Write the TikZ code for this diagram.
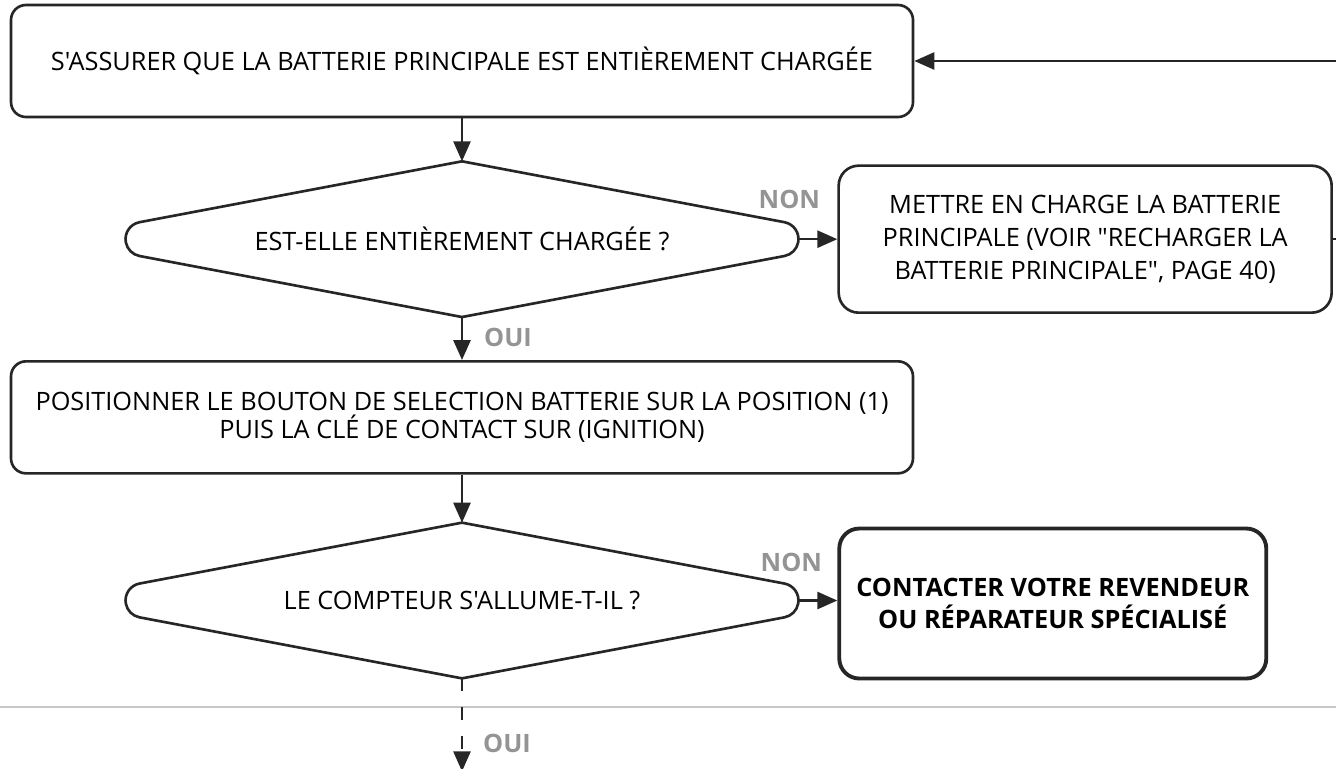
\documentclass[tikz,border=0pt]{standalone}
\usepackage{fontspec}
\setmainfont{Open Sans}[Ligatures=TeXOff]
\usetikzlibrary{positioning,arrows.meta,calc,shapes.geometric}

\begin{document}
\begin{tikzpicture}[
    font=\fontsize{14.4}{16.3}\selectfont,
    >={Triangle[length=4mm,width=3.4mm]},
    node distance=8.6mm and 7.8mm,
    blk/.style    ={draw=black!85, rounded corners=3mm, align=center,
                    inner sep=0pt, line width=1.5pt},
    act/.style    ={blk, minimum width=180.4mm, minimum height=22.4mm},
    note/.style   ={blk, rounded corners=4mm, minimum width=98.6mm,
                    minimum height=29.4mm, font=\fontsize{14.4}{18.8}\selectfont},
    stopbox/.style={blk, rounded corners=4mm, line width=2.2pt, minimum width=85.4mm,
                    minimum height=30mm, font=\fontsize{14.4}{18.4}\selectfont\bfseries},
    ask/.style    ={diamond, aspect=5.3, inner sep=0pt,
                    minimum width=164.8mm, minimum height=31mm},
    rim/.style    ={line width=1.5pt, draw=black!85, line cap=round, line join=round},
    flow/.style   ={->, line width=1.5pt, draw=black!85},
    lbl/.style    ={text=black!42, font=\fontsize{14.4}{16.3}\selectfont\bfseries},
    sep/.style    ={line width=0.4mm, draw=black!22},
]
\useasboundingbox (0,0) rectangle (267.2mm,-153.8mm);

% ------------------------------------------------------------
% main column
% ------------------------------------------------------------
\node[act] (chk) at (92.4mm,-12.2mm)
    {S'ASSURER QUE LA BATTERIE PRINCIPALE EST ENTIÈREMENT CHARGÉE};
\node[ask, below=of chk] (dec1) {EST-ELLE ENTIÈREMENT CHARGÉE ?};
\node[act, below=of dec1] (sel)
    {POSITIONNER LE BOUTON DE SELECTION BATTERIE SUR LA POSITION (1)\\
     PUIS LA CLÉ DE CONTACT SUR (IGNITION)};
\node[ask, below=9.6mm of sel] (dec2) {LE COMPTEUR S'ALLUME-T-IL ?};

% rounded side tips of the decisions
\coordinate (dec1tip) at ([xshift=-15.2mm]dec1.east);
\coordinate (dec2tip) at ([xshift=-15.2mm]dec2.east);

\foreach \d in {dec1,dec2} {
  \draw[rim] (\d.north) -- ($(\d.west)!18.3mm!(\d.north)$)
      arc[start angle=100.65, end angle=259.35, radius=3.44mm] -- (\d.south);
  \draw[rim] (\d.north) -- ($(\d.east)!18.3mm!(\d.north)$)
      arc[start angle=79.35, end angle=-79.35, radius=3.44mm] -- (\d.south);
}

% ------------------------------------------------------------
% right column
% ------------------------------------------------------------
\node[note, right=of dec1tip] (charge)
    {METTRE EN CHARGE LA BATTERIE\\
     PRINCIPALE (VOIR "RECHARGER LA\\
     BATTERIE PRINCIPALE", PAGE 40)};
\node[stopbox, right=of dec2tip, yshift=-0.6mm] (dealer)
    {CONTACTER VOTRE REVENDEUR\\OU RÉPARATEUR SPÉCIALISÉ};

% labels
\node[lbl] (non1) at ([shift={(-1.8mm,7.9mm)}]dec1tip) {NON};
\node[lbl] (non2) at ([shift={(-1.4mm,7.7mm)}]dec2tip) {NON};
\node[lbl] (oui1) at ([shift={(9.2mm,-4mm)}]dec1.south) {OUI};
\node[lbl] (oui2) at ([shift={(9mm,-13mm)}]dec2.south) {OUI};

% page separator and continuation
\coordinate (sepL) at (0,-141.4mm);
\coordinate (sepR) at (267.2mm,-141.4mm);
\coordinate (next) at ([yshift=-18.6mm]dec2.south);
\draw[sep] (sepL) -- (sepR);

% flow
\draw[flow] (chk)     -- (dec1);
\draw[flow] (dec1)    -- (sel);
\draw[flow] (sel)     -- (dec2);
\draw[flow] (dec1tip) -- (charge);
\draw[flow] (dec2tip) -- (dealer.west |- dec2tip);
\draw[flow] (charge.east) -- ++(2.4mm,0) |- (chk.east);
\draw[flow, dash pattern=on 2.6mm off 3.2mm] (dec2.south) -- (next);

\end{tikzpicture}
\end{document}
